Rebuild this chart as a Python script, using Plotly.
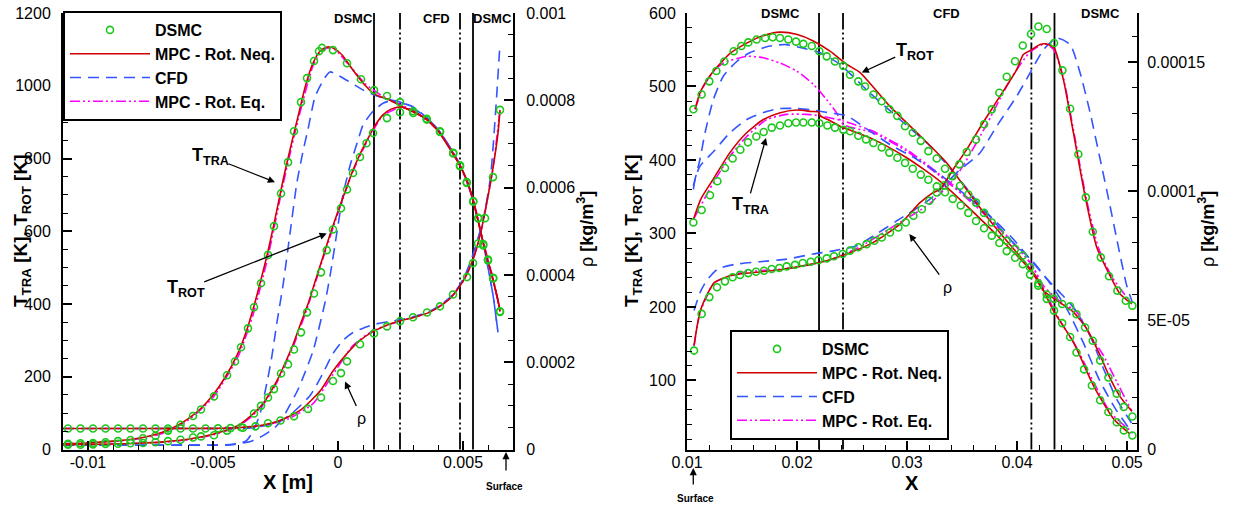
import plotly.graph_objects as go

# ---------------- LEFT PANEL DATA (x in m) ----------------
# DSMC
xL_dsmc_tra = [-0.0108,-0.0103,-0.0098,-0.0093,-0.0088,-0.0083,-0.0078,-0.0073,-0.0068,-0.0063,-0.0058,-0.00548,-0.00496,-0.00444,-0.00412,-0.00388,-0.0036,-0.00336,-0.00308,-0.0028,-0.00256,-0.00228,-0.002,-0.00176,-0.00148,-0.00124,-0.00096,-0.00076,-0.00064,-0.0002,0.00036,0.00092,0.00144,0.00196,0.00248,0.00301,0.00355,0.00408,0.00461,0.00488,0.00515,0.00541,0.00561,0.00581,0.006,0.00621,0.00648]
TL_dsmc_tra = [16,17,18,20,23,26,31,38,52,68,92,110,146,204,242,281,333,391,457,535,614,704,790,875,955,1021,1068,1095,1104,1098,1062,1018,988,972,955,925,907,873,814,779,733,681,635,561,520,470,378]
xL_dsmc_rot = [-0.0108,-0.0103,-0.0098,-0.0093,-0.0088,-0.0083,-0.0078,-0.0073,-0.0068,-0.0063,-0.0058,-0.00548,-0.00496,-0.00444,-0.00388,-0.00336,-0.00308,-0.0028,-0.00256,-0.00228,-0.002,-0.00176,-0.00148,-0.00124,-0.00096,-0.00068,-0.00045,-0.0002,0.00012,0.00036,0.0006,0.00088,0.00114,0.0014,0.00196,0.00248,0.00301,0.00355,0.00408,0.00461,0.00488,0.00515,0.00541,0.00561,0.00581,0.006,0.00621,0.00648]
TL_dsmc_rot = [13,13,14,15,16,17,18,20,23,27,33,36,39,52,61,99,120,143,166,209,234,275,322,377,429,487,548,605,663,715,760,804,842,870,911,927,930,909,875,816,781,735,683,637,565,522,472,380]
xL_dsmc_rho = [-0.0108,-0.0103,-0.0098,-0.0093,-0.0088,-0.0083,-0.0078,-0.0073,-0.0068,-0.0063,-0.0058,-0.0053,-0.0048,-0.0043,-0.0038,-0.0033,-0.0028,-0.0023,-0.00176,-0.0012,-0.00068,-0.0002,0.00012,0.00036,0.00088,0.00144,0.00196,0.00248,0.003,0.00356,0.00408,0.0046,0.00516,0.0054,0.0056,0.00588,0.0062,0.00648]
RL_dsmc_rho = [4.8e-5,4.8e-5,4.8e-5,4.8e-5,4.8e-5,4.8e-5,4.8e-5,4.8e-5,4.8e-5,4.8e-5,4.8e-5,4.8e-5,4.85e-5,4.9e-5,5.0e-5,5.3e-5,6.0e-5,6.65e-5,7.6e-5,9.3e-5,1.19e-4,1.57e-4,1.75e-4,2.02e-4,2.41e-4,2.66e-4,2.82e-4,2.94e-4,3.03e-4,3.14e-4,3.28e-4,3.55e-4,3.95e-4,4.27e-4,4.72e-4,5.3e-4,6.24e-4,7.78e-4]

# MPC - Rot. Neq.
xL_neq_tra = [-0.011,-0.010,-0.009,-0.008,-0.0075,-0.007,-0.0065,-0.006,-0.0055,-0.005,-0.0045,-0.004,-0.0037,-0.0034,-0.0031,-0.0028,-0.0025,-0.0022,-0.0019,-0.0016,-0.0013,-0.001,-0.0007,-0.0004,-0.0001,0.0002,0.0005,0.0008,0.0011,0.0014,0.0017,0.002,0.0025,0.003,0.0035,0.004,0.0045,0.0048,0.005,0.0052,0.0054,0.0056,0.0058,0.006,0.0062,0.0064,0.00648]
TL_neq_tra = [16,18,23,31,38,48,63,84,112,150,200,265,318,385,462,545,640,740,830,915,1000,1062,1097,1107,1100,1082,1052,1025,1000,979,970,963,945,928,910,876,824,790,764,732,686,630,570,518,466,410,380]
xL_neq_rot = [-0.011,-0.010,-0.009,-0.008,-0.007,-0.006,-0.005,-0.0045,-0.004,-0.0035,-0.003,-0.0027,-0.0024,-0.0021,-0.0018,-0.0015,-0.0012,-0.0009,-0.0006,-0.0003,0.0,0.0003,0.0006,0.0009,0.0012,0.0015,0.0018,0.0021,0.0025,0.003,0.0035,0.004,0.0045,0.0048,0.005,0.0052,0.0054,0.0056,0.0058,0.006,0.0062,0.0064,0.00648]
TL_neq_rot = [13,14,15,17,21,28,42,52,66,92,126,158,195,240,288,345,400,465,530,595,655,712,768,815,855,893,920,935,942,930,910,876,824,790,764,732,686,630,570,518,466,410,380]
xL_neq_rho = [-0.011,-0.009,-0.007,-0.005,-0.004,-0.003,-0.0023,-0.0015,-0.0007,-0.0002,0.00036,0.00088,0.0014,0.002,0.0025,0.003,0.0036,0.004,0.0045,0.005,0.0054,0.0057,0.006,0.0062,0.0064,0.00648]
RL_neq_rho = [4.8e-5,4.8e-5,4.8e-5,4.85e-5,5.0e-5,5.6e-5,6.7e-5,9.0e-5,1.35e-4,1.8e-4,2.2e-4,2.5e-4,2.7e-4,2.86e-4,2.95e-4,3.02e-4,3.13e-4,3.25e-4,3.47e-4,3.85e-4,4.35e-4,4.95e-4,5.8e-4,6.45e-4,7.25e-4,7.78e-4]

# CFD
xL_cfd_tra = [-0.011,-0.008,-0.006,-0.0045,-0.0042,-0.0039,-0.00365,-0.0034,-0.00312,-0.00285,-0.00265,-0.00245,-0.00219,-0.00192,-0.00165,-0.00139,-0.0012,-0.00092,-0.00059,-0.00032,0.00035,0.00101,0.00168,0.00241,0.00301,0.0035,0.004,0.0045,0.0048,0.005,0.0052,0.0054,0.0056,0.0058,0.006,0.0062,0.0064]
TL_cfd_tra = [12,12,12,12,13,17,25,50,98,181,254,346,456,594,731,823,880,969,1015,1038,1015,988,969,956,942,915,880,828,793,765,730,685,630,570,500,425,322]
xL_cfd_rot = [-0.011,-0.006,-0.0045,-0.0035,-0.003,-0.0025,-0.0022,-0.0019,-0.0016,-0.0013,-0.001,-0.00085,-0.0005,-0.0003,-0.00005,0.0002,0.0005,0.0008,0.001,0.0014,0.0018,0.0022,0.0026,0.003,0.0035,0.004,0.0045,0.0048,0.005,0.0052,0.0054,0.0056,0.0058,0.006,0.0062,0.0064]
TL_cfd_rot = [12,12,13,22,38,62,88,125,165,215,270,309,410,485,594,700,785,850,892,930,952,960,952,938,915,880,828,793,765,730,685,630,570,500,425,322]
xL_cfd_rho = [-0.011,-0.006,-0.0045,-0.0034,-0.0024,-0.0018,-0.0011,-0.0006,-0.0002,0.0002,0.0006,0.001,0.0014,0.002,0.0025,0.003,0.0036,0.004,0.0046,0.005,0.0053,0.0058,0.0061,0.0063,0.00648]
RL_cfd_rho = [4.8e-5,4.8e-5,4.8e-5,5.0e-5,6.2e-5,8.5e-5,1.25e-4,1.75e-4,2.2e-4,2.5e-4,2.68e-4,2.78e-4,2.86e-4,2.93e-4,2.97e-4,3.04e-4,3.15e-4,3.27e-4,3.55e-4,3.9e-4,4.3e-4,5.25e-4,6.24e-4,7.7e-4,9.3e-4]

# MPC - Rot. Eq.
xL_eq_tra = [-0.011,-0.009,-0.008,-0.007,-0.006,-0.005,-0.004,-0.0034,-0.0028,-0.0022,-0.0016,-0.001,-0.0007,-0.0004,-0.0001,0.0005,0.0011,0.0017,0.0025,0.003,0.004,0.0048,0.0054,0.0058,0.0062,0.00648]
TL_eq_tra = [16,22,29,45,80,143,255,370,530,728,905,1055,1092,1104,1098,1052,1005,975,948,932,878,793,688,573,470,380]
xL_eq_rot = [-0.011,-0.009,-0.007,-0.006,-0.005,-0.004,-0.0035,-0.003,-0.0024,-0.0018,-0.0012,-0.0006,0.0,0.0006,0.0012,0.0018,0.0025,0.003,0.004,0.0048,0.0054,0.0058,0.0062,0.00648]
TL_eq_rot = [13,15,20,27,40,63,88,122,190,282,395,525,650,765,852,918,940,932,878,793,688,573,470,380]
xL_eq_rho = [-0.011,-0.005,-0.004,-0.003,-0.002,-0.001,-0.0002,0.0006,0.0014,0.0025,0.0036,0.0045,0.005,0.0054,0.0057,0.006,0.0062,0.00648]
RL_eq_rho = [4.8e-5,4.85e-5,5.0e-5,5.5e-5,7.0e-5,1.05e-4,1.72e-4,2.38e-4,2.72e-4,2.95e-4,3.13e-4,3.47e-4,3.85e-4,4.35e-4,4.95e-4,5.8e-4,6.45e-4,7.78e-4]

# ---------------- RIGHT PANEL DATA ----------------
xR_dsmc_rot = [0.01058,0.01133,0.01203,0.01267,0.01339,0.01424,0.01494,0.01557,0.01633,0.0171,0.01779,0.01845,0.01921,0.01991,0.02057,0.02134,0.02203,0.0227,0.02345,0.02421,0.02482,0.02557,0.02618,0.02694,0.0277,0.02839,0.02912,0.02982,0.03052,0.03125,0.03194,0.0327,0.03345,0.03414,0.03482,0.03557,0.03627,0.037,0.0377,0.03839,0.03906,0.03982,0.04052,0.04118,0.04193,0.0427,0.04336,0.0441,0.04482,0.0454,0.04609,0.0468,0.04755,0.0483,0.04906,0.0497,0.05048]
TR_dsmc_rot = [469,489,507,521,534,548,555,560,564,566,567,566,564,561,558,555,548,541,534,528,516,507,500,489,480,469,460,446,437,426,412,402,388,378,365,353,342,328,315,301,290,279,270,254,229,211,195,178,159,138,115,93,73,57,43,32,25]
xR_dsmc_tra = [0.01058,0.01133,0.01209,0.01276,0.01345,0.01415,0.01485,0.01554,0.0163,0.01697,0.0177,0.01845,0.01921,0.01991,0.02057,0.02134,0.02203,0.02276,0.02345,0.02421,0.02482,0.02557,0.02627,0.02694,0.0277,0.02839,0.02912,0.02982,0.03052,0.03125,0.03194,0.0327,0.03345,0.03415,0.03488,0.03557,0.03627,0.037,0.0377,0.03839,0.03906,0.03982,0.04052,0.04118,0.04193,0.0427,0.04336,0.0441,0.04482,0.0454,0.04618,0.04688,0.04755,0.0483,0.04906,0.0497,0.05048]
TR_dsmc_tra = [315,332,352,371,389,402,414,424,432,438,444,447,450,451,451,451,450,447,444,441,439,433,428,423,417,410,403,396,388,380,373,364,356,347,338,328,317,307,297,287,276,267,258,244,232,217,211,204,201,190,172,154,127,104,82,64,51]
xR_dsmc_rho = [0.01064,0.01133,0.01203,0.01273,0.01345,0.01415,0.01482,0.01557,0.01627,0.017,0.0177,0.01839,0.01906,0.01982,0.02052,0.02125,0.02194,0.0227,0.02336,0.02415,0.02482,0.02557,0.02633,0.02703,0.0277,0.02845,0.02921,0.02988,0.03058,0.03134,0.03203,0.0327,0.03339,0.03406,0.03476,0.03543,0.03627,0.037,0.0377,0.03839,0.03906,0.03982,0.04052,0.04127,0.04194,0.0427,0.04336,0.04412,0.04482,0.04557,0.04625,0.04688,0.04761,0.04836,0.04912,0.04988,0.05048]
RR_dsmc_rho = [3.83e-5,5.25e-5,5.9e-5,6.28e-5,6.51e-5,6.67e-5,6.76e-5,6.83e-5,6.88e-5,6.92e-5,6.99e-5,7.03e-5,7.09e-5,7.15e-5,7.22e-5,7.27e-5,7.33e-5,7.4e-5,7.48e-5,7.57e-5,7.7e-5,7.83e-5,7.95e-5,8.08e-5,8.21e-5,8.4e-5,8.6e-5,8.79e-5,9.05e-5,9.3e-5,9.63e-5,9.95e-5,1.023e-4,1.059e-4,1.104e-4,1.152e-4,1.2e-4,1.259e-4,1.317e-4,1.381e-4,1.443e-4,1.503e-4,1.564e-4,1.609e-4,1.638e-4,1.628e-4,1.574e-4,1.468e-4,1.319e-4,1.143e-4,9.76e-5,8.43e-5,7.44e-5,6.71e-5,6.15e-5,5.76e-5,5.57e-5]

xR_neq_rot = [0.01073,0.0112,0.0121,0.013,0.01392,0.01543,0.0169,0.01845,0.01994,0.02148,0.023,0.02452,0.02573,0.02845,0.03118,0.03361,0.03603,0.03815,0.03997,0.04179,0.0433,0.04512,0.04694,0.04876,0.05027]
TR_neq_rot = [469,492,515,531,545,559,569,574,571,562,548,530,519,473,433,396,347,306,274,240,195,152,93,48,27]
xR_neq_tra = [0.01058,0.0113,0.01239,0.0139,0.01542,0.01694,0.0184,0.01994,0.0213,0.022,0.0221,0.0228,0.02391,0.02694,0.02997,0.033,0.03603,0.03906,0.04134,0.0424,0.0439,0.04512,0.04634,0.04755,0.04845,0.04936,0.05043]
TR_neq_tra = [319,348,374,410,437,455,464,468,466,465,460,455,446,428,403,371,329,284,248,222,206,193,170,134,103,78,58]
xR_neq_rho = [0.01064,0.01118,0.01194,0.0125,0.0139,0.016,0.01845,0.02088,0.0227,0.02452,0.02694,0.02936,0.03118,0.0322,0.033,0.0342,0.03543,0.0369,0.03845,0.03997,0.04057,0.04133,0.04209,0.0427,0.04336,0.04421,0.04512,0.04618,0.04724,0.04845,0.04936,0.05043]
RR_neq_rho = [4.03e-5,5.32e-5,6.09e-5,6.47e-5,6.73e-5,6.85e-5,6.96e-5,7.14e-5,7.31e-5,7.57e-5,8.02e-5,8.73e-5,9.56e-5,9.9e-5,1.008e-4,1.085e-4,1.162e-4,1.265e-4,1.368e-4,1.471e-4,1.529e-4,1.548e-4,1.568e-4,1.57e-4,1.555e-4,1.432e-4,1.227e-4,9.82e-5,7.83e-5,6.73e-5,6.02e-5,5.64e-5]

xR_cfd_rot = [0.01058,0.01118,0.01164,0.01239,0.0133,0.01452,0.0157,0.01755,0.019,0.02057,0.0221,0.02391,0.02664,0.02936,0.03209,0.03452,0.03694,0.03936,0.04148,0.043,0.0445,0.046,0.0475,0.049,0.0505]
TR_cfd_rot = [365,401,437,482,514,534,546,555,557,552,546,530,491,455,419,378,333,292,261,232,198,152,100,60,28]
xR_cfd_tra = [0.01058,0.0108,0.0112,0.0118,0.0125,0.0139,0.01543,0.01725,0.01845,0.01997,0.02148,0.023,0.02452,0.02694,0.02845,0.03088,0.033,0.03543,0.03725,0.03967,0.04118,0.0426,0.044,0.0453,0.0466,0.0478,0.049,0.0504]
TR_cfd_tra = [360,378,392,402,413,437,455,466,470,470,468,464,460,436,421,401,380,351,328,292,265,240,218,196,162,118,76,42]
xR_cfd_rho = [0.01064,0.0112,0.01179,0.0128,0.01452,0.0166,0.01906,0.02148,0.0233,0.0255,0.02694,0.02906,0.03209,0.03452,0.03664,0.03815,0.03997,0.04118,0.0424,0.04361,0.04482,0.04573,0.04664,0.04755,0.04845,0.04906,0.04997,0.05048]
RR_cfd_rho = [5.38e-5,6.09e-5,6.54e-5,6.99e-5,7.18e-5,7.27e-5,7.37e-5,7.57e-5,7.69e-5,7.9e-5,8.27e-5,8.85e-5,9.69e-5,1.072e-4,1.149e-4,1.252e-4,1.368e-4,1.458e-4,1.548e-4,1.593e-4,1.568e-4,1.458e-4,1.304e-4,1.124e-4,9.43e-5,8.15e-5,6.34e-5,5.7e-5]

xR_eq_rot = [0.01073,0.0115,0.0125,0.0133,0.01543,0.01694,0.01845,0.01997,0.02148,0.0227,0.0236,0.02421,0.02694,0.02997,0.033,0.03603,0.03906,0.0413,0.0425,0.04361,0.04543,0.04694,0.04845,0.05027]
TR_eq_rot = [469,500,522,532,541,539,532,521,503,482,464,448,437,412,378,340,296,258,222,189,144,98,57,32]
xR_eq_tra = [0.01058,0.01239,0.0139,0.01543,0.01725,0.01906,0.0209,0.0221,0.02421,0.02694,0.02997,0.033,0.03603,0.03906,0.0413,0.0424,0.0437,0.04543,0.04664,0.04785,0.04906,0.05043]
TR_eq_tra = [319,369,405,432,455,462,462,460,453,439,414,380,342,297,258,229,210,193,161,134,98,58]
xR_eq_rho = [0.01064,0.0112,0.0125,0.015,0.019,0.0227,0.0255,0.029,0.032,0.0345,0.037,0.0395,0.0412,0.0425,0.0433,0.0442,0.0452,0.0463,0.0474,0.0486,0.0504]
RR_eq_rho = [4.0e-5,5.3e-5,6.45e-5,6.85e-5,7.0e-5,7.3e-5,7.8e-5,8.7e-5,9.5e-5,1.06e-4,1.24e-4,1.44e-4,1.54e-4,1.57e-4,1.55e-4,1.44e-4,1.22e-4,9.7e-5,7.8e-5,6.7e-5,5.65e-5]

# interfaces (DSMC/CFD boundaries)
interfaces_L = [0.00144, 0.00248, 0.00488, 0.0054]
interfaces_R = [0.022, 0.02418, 0.0413, 0.0434]
interface_styles = ["solid", "dashdot", "dashdot", "solid"]

# tick labels
xL_ticks = [-0.01, -0.005, 0, 0.005]
xL_ticktext = ["-0.01", "-0.005", "0", "0.005"]
yL_ticks = [0, 200, 400, 600, 800, 1000, 1200]
y2L_ticks = [0, 0.0002, 0.0004, 0.0006, 0.0008, 0.001]
y2L_ticktext = ["0", "0.0002", "0.0004", "0.0006", "0.0008", "0.001"]
xR_ticks = [0.01, 0.02, 0.03, 0.04, 0.05]
xR_ticktext = ["0.01", "0.02", "0.03", "0.04", "0.05"]
yR_ticks = [100, 200, 300, 400, 500, 600]
y2R_ticks = [0, 5e-5, 1e-4, 1.5e-4]
y2R_ticktext = ["0", "5E-05", "0.0001", "0.00015"]

# ---------------- STYLE ----------------
W, H = 1235, 509
FONT = "Liberation Sans, Arial, Helvetica, sans-serif"
GREEN = "#1cc81c"
RED = "#d00000"
BLUE = "#3355ff"
MAGENTA = "#ff00ff"
DASH_CFD = "11px,7px"
DASH_EQ = "10px,3px,2px,3px,2px,3px"
DASH_IF = "17px,3px,2px,3px,2px,3px"

def px(x):
    return x / W

def py(y):
    return 1 - y / H

fig = go.Figure()

def add_line(x, y, xa, ya, name, color, dash, leg, show, rank):
    fig.add_trace(go.Scatter(x=x, y=y, xaxis=xa, yaxis=ya, mode="lines", name=name,
                             line=dict(color=color, width=1.6, dash=dash, shape="spline", smoothing=0.6),
                             legend=leg, showlegend=show, legendrank=rank, hoverinfo="skip"))

def add_dsmc(x, y, xa, ya, leg, show):
    fig.add_trace(go.Scatter(x=x, y=y, xaxis=xa, yaxis=ya, mode="markers", name="DSMC",
                             marker=dict(symbol="circle-open", size=7, color=GREEN, line=dict(width=1.6, color=GREEN)),
                             legend=leg, showlegend=show, legendrank=1, hoverinfo="skip"))

panels = [
    ("x", "y", "y2", "legend",
     (xL_eq_tra, TL_eq_tra, xL_eq_rot, TL_eq_rot, xL_eq_rho, RL_eq_rho),
     (xL_cfd_tra, TL_cfd_tra, xL_cfd_rot, TL_cfd_rot, xL_cfd_rho, RL_cfd_rho),
     (xL_neq_tra, TL_neq_tra, xL_neq_rot, TL_neq_rot, xL_neq_rho, RL_neq_rho),
     (xL_dsmc_tra, TL_dsmc_tra, xL_dsmc_rot, TL_dsmc_rot, xL_dsmc_rho, RL_dsmc_rho)),
    ("x2", "y3", "y4", "legend2",
     (xR_eq_tra, TR_eq_tra, xR_eq_rot, TR_eq_rot, xR_eq_rho, RR_eq_rho),
     (xR_cfd_tra, TR_cfd_tra, xR_cfd_rot, TR_cfd_rot, xR_cfd_rho, RR_cfd_rho),
     (xR_neq_tra, TR_neq_tra, xR_neq_rot, TR_neq_rot, xR_neq_rho, RR_neq_rho),
     (xR_dsmc_tra, TR_dsmc_tra, xR_dsmc_rot, TR_dsmc_rot, xR_dsmc_rho, RR_dsmc_rho)),
]

for xa, ya, ya2, leg, eq, cfd, neq, dsmc in panels:
    for (data, name, color, dash, rank) in [(eq, "MPC - Rot. Eq.", MAGENTA, DASH_EQ, 4),
                                             (cfd, "CFD", BLUE, DASH_CFD, 3),
                                             (neq, "MPC - Rot. Neq.", RED, "solid", 2)]:
        add_line(data[0], data[1], xa, ya, name, color, dash, leg, True, rank)
        add_line(data[2], data[3], xa, ya, name, color, dash, leg, False, rank)
        add_line(data[4], data[5], xa, ya2, name, color, dash, leg, False, rank)
    add_dsmc(dsmc[0], dsmc[1], xa, ya, leg, True)
    add_dsmc(dsmc[2], dsmc[3], xa, ya, leg, False)
    add_dsmc(dsmc[4], dsmc[5], xa, ya2, leg, False)

# interface lines
shapes = []
for xs, xref, yref in [(interfaces_L, "x", "y domain"), (interfaces_R, "x2", "y3 domain")]:
    for xv, st in zip(xs, interface_styles):
        shapes.append(dict(type="line", xref=xref, yref=yref, x0=xv, x1=xv, y0=0, y1=1,
                           line=dict(color="black", width=1.8, dash=("solid" if st == "solid" else DASH_IF)),
                           layer="below"))

tickfont = dict(family=FONT, size=16, color="black")
common = dict(showgrid=False, zeroline=False, showline=True, linecolor="black", linewidth=2,
              ticks="inside", ticklen=9, tickwidth=2, tickcolor="black", tickfont=tickfont,
              tickmode="array")

def minor(dt, t0=0):
    return dict(ticks="inside", ticklen=5, tickwidth=1, tickcolor="black", dtick=dt, tick0=t0, showgrid=False)

ydom = [py(449.5), py(13)]

legend_style = dict(xanchor="left", yanchor="top", bgcolor="white",
                    bordercolor="black", borderwidth=2, itemwidth=80, tracegroupgap=0,
                    font=dict(family=FONT, size=16, color="black", weight="bold"))

fig.update_layout(
    width=W, height=H,
    margin=dict(l=0, r=0, t=0, b=0, autoexpand=False),
    paper_bgcolor="white", plot_bgcolor="white",
    font=dict(family=FONT, color="black"),
    hovermode=False,
    xaxis=dict(domain=[px(63), px(513)], anchor="y", range=[-0.011, 0.007], ticklabelstandoff=-3,
               tickvals=xL_ticks, ticktext=xL_ticktext, minor=minor(0.001), **common),
    yaxis=dict(domain=ydom, anchor="x", range=[0, 1200], tickvals=yL_ticks, ticklabelstandoff=7,
               ticktext=[str(v) for v in yL_ticks], minor=minor(50), **common),
    yaxis2=dict(overlaying="y", side="right", anchor="x", range=[0, 0.001], ticklabelstandoff=8,
                tickvals=y2L_ticks, ticktext=y2L_ticktext, minor=minor(0.00005), **common),
    xaxis2=dict(domain=[px(687), px(1137)], anchor="y3", range=[0.01, 0.0509], ticklabelstandoff=-3,
                tickvals=xR_ticks, ticktext=xR_ticktext, minor=minor(0.002), **common),
    yaxis3=dict(domain=ydom, anchor="x2", range=[6, 600], tickvals=yR_ticks, ticklabelstandoff=6,
                ticktext=[str(v) for v in yR_ticks], minor=minor(20), **common),
    yaxis4=dict(overlaying="y3", side="right", anchor="x2", range=[0, 0.000169], ticklabelstandoff=5,
                tickvals=y2R_ticks, ticktext=y2R_ticktext, minor=minor(0.00001), **common),
    shapes=shapes,
    legend=dict(x=px(63), y=py(11), **legend_style),
    legend2=dict(x=px(730), y=py(330), **legend_style),
)

ann = []
def label(text, x, y, size=16, angle=0):
    ann.append(dict(text=text, x=px(x), y=py(y), xref="paper", yref="paper", showarrow=False,
                    textangle=angle, xanchor="center", yanchor="middle",
                    font=dict(family=FONT, size=size, color="black")))

# region labels
for t, x in [("DSMC", 353), ("CFD", 436), ("DSMC", 492)]:
    label("<b>%s</b>" % t, x, 18, 13)
for t, x in [("DSMC", 781), ("CFD", 946), ("DSMC", 1100)]:
    label("<b>%s</b>" % t, x, 14, 13)

# axis titles
label("<b>X [m]</b>", 288, 482, 20)
label("<b>X</b>", 912, 483, 20)
label("<b>T<sub>TRA</sub> [K], T<sub>ROT</sub> [K]</b>", 22, 231, 19, -90)
label("<b>T<sub>TRA</sub> [K], T<sub>ROT</sub> [K]</b>", 633, 231, 19, -90)
label("ρ <b>[kg/m<sup>3</sup>]</b>", 585, 229, 18, -90)
label("ρ <b>[kg/m<sup>3</sup>]</b>", 1206, 229, 18, -90)

# curve labels
label("<b>T<sub>TRA</sub></b>", 210, 156, 18)
label("<b>T<sub>ROT</sub></b>", 186, 288, 18)
label("ρ", 361, 418, 16)
label("<b>T<sub>ROT</sub></b>", 915, 52, 18)
label("<b>T<sub>TRA</sub></b>", 750, 206, 18)
label("ρ", 947, 287, 16)
label("<b>Surface</b>", 505, 486, 10)
label("<b>Surface</b>", 695, 498, 10)

def arrow(x, y, xref, yref, ax, ay):
    ann.append(dict(text="", x=x, y=y, xref=xref, yref=yref, ax=ax, ay=ay, axref="pixel", ayref="pixel",
                    showarrow=True, arrowhead=2, arrowsize=1.1, arrowwidth=1.3, arrowcolor="black", standoff=0))

arrow(-0.00252, 735, "x", "y", -48, -19)
arrow(-0.00045, 594, "x", "y", -124, 49)
arrow(0.00028, 1.56e-4, "x", "y2", 12, 26)
arrow(0.02588, 519, "x2", "y3", 35, -16)
arrow(0.01718, 430, "x2", "y3", -16, 57)
arrow(0.03021, 8.34e-5, "x2", "y4", 31, 42)
arrow(0.00672, py(452), "x", "paper", 0, 20)
arrow(0.01057, py(468), "x2", "paper", 0, 18)

fig.update_layout(annotations=ann)

fig.write_html("out.html", config={"displayModeBar": False},
               post_script="document.body.style.margin='0';")
